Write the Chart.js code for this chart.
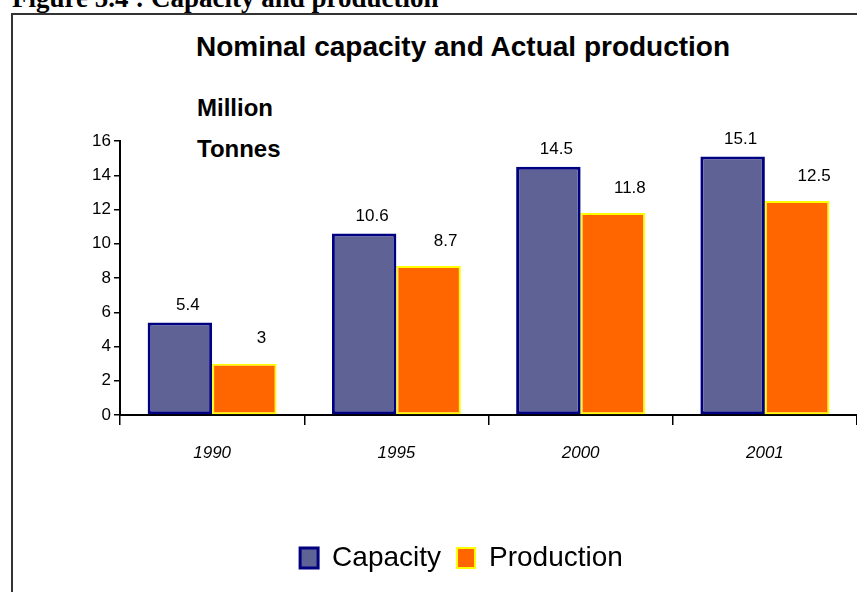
<!DOCTYPE html>
<html>
<head>
<meta charset="utf-8">
<script src="https://cdn.jsdelivr.net/npm/chart.js@4/dist/chart.umd.min.js"></script>
<style>
  html, body { margin:0; padding:0; background:#fff; width:857px; height:592px; overflow:hidden; }
  #wrap { position:relative; width:857px; height:592px; }
  #caption { position:absolute; left:12px; top:-15px; font:bold 27px "Liberation Serif", "Times New Roman", serif; line-height:27px; white-space:nowrap; color:#000; }
  #frame { position:absolute; left:11px; top:13px; width:900px; height:700px; border-left:2px solid #333; border-top:2px solid #333; }
  #title { position:absolute; left:63px; width:800px; top:33px; text-align:center; font:bold 28px "Liberation Sans", Arial, sans-serif; line-height:28px; white-space:nowrap; color:#000; }
  #unit { position:absolute; left:197px; top:87px; font:bold 24px "Liberation Sans", Arial, sans-serif; line-height:41px; color:#000; }
  #c { position:absolute; left:0; top:0; }
</style>
</head>
<body>
<div id="wrap">
  <div id="caption">Figure 5.4 : Capacity and production</div>
  <div id="frame"></div>
  <div id="title">Nominal capacity and Actual production</div>
  <div id="unit">Million<br>Tonnes</div>
  <canvas id="c" width="857" height="592"></canvas>
</div>
<script>
const categories = ["1990", "1995", "2000", "2001"];
const capacity = [5.4, 10.6, 14.5, 15.1];
const production = [3, 8.7, 11.8, 12.5];
const seriesNames = ["Capacity", "Production"];

const sans = '"Liberation Sans", Arial, sans-serif';

const valueLabels = {
  id: 'valueLabels',
  afterDatasetsDraw(chart) {
    const ctx = chart.ctx;
    ctx.save();
    ctx.font = '17px ' + sans;
    ctx.fillStyle = '#000';
    ctx.textAlign = 'center';
    ctx.textBaseline = 'middle';
    const offs = [[8, 17], [17, 25]];
    chart.data.datasets.forEach((ds, di) => {
      const meta = chart.getDatasetMeta(di);
      meta.data.forEach((bar, i) => {
        ctx.fillText(String(ds.data[i]), bar.x + offs[di][0], bar.y - offs[di][1]);
      });
    });
    ctx.restore();
  }
};

new Chart(document.getElementById('c'), {
  type: 'bar',
  data: {
    labels: categories,
    datasets: [
      { label: seriesNames[0], data: capacity, backgroundColor: '#5f6294', borderColor: '#000080', borderWidth: 3, borderSkipped: false },
      { label: seriesNames[1], data: production, backgroundColor: '#ff6600', borderColor: '#ffff00', borderWidth: 2, borderSkipped: false }
    ]
  },
  options: {
    responsive: false,
    animation: false,
    devicePixelRatio: 1,
    layout: { padding: { left: 66, right: 0, top: 141, bottom: 10 } },
    datasets: { bar: { categoryPercentage: 0.7, barPercentage: 1.0 } },
    plugins: {
      tooltip: { enabled: false },
      title: { display: false },
      legend: {
        position: 'bottom',
        labels: {
          font: { family: sans, size: 28 },
          color: '#000',
          boxWidth: 18,
          boxHeight: 20,
          padding: 16
        }
      }
    },
    scales: {
      x: {
        afterFit(scale) { scale.height = 113; },
        grid: { display: true, drawOnChartArea: false, drawTicks: true, tickLength: 10, color: '#000', lineWidth: 1.5, offset: true },
        border: { display: true, color: '#000', width: 2 },
        ticks: { color: '#000', padding: 18, font: { family: sans, size: 17, style: 'italic' } }
      },
      y: {
        min: 0, max: 16,
        afterFit(scale) { scale.width = 54; },
        grid: { display: true, drawOnChartArea: false, drawTicks: true, tickLength: 6, color: '#000', lineWidth: 1.5 },
        border: { display: true, color: '#000', width: 2 },
        ticks: { stepSize: 2, color: '#000', padding: 3, font: { family: sans, size: 17 } }
      }
    }
  },
  plugins: [valueLabels]
});
</script>
</body>
</html>
